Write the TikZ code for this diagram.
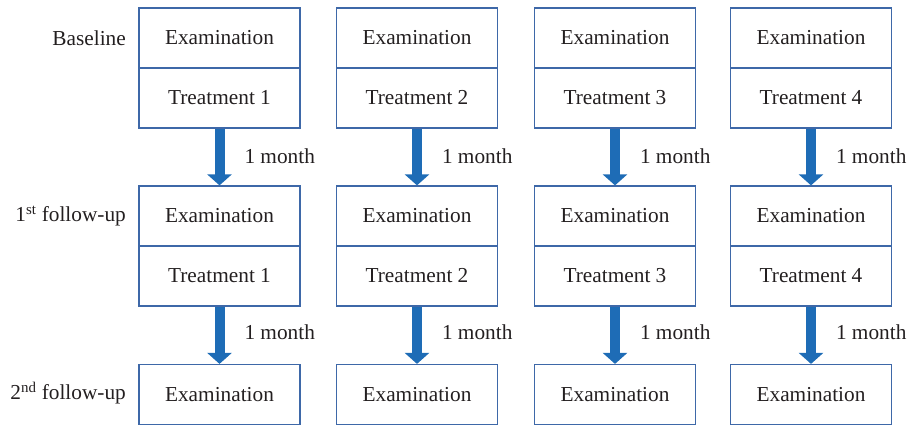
\documentclass[tikz,border=0pt]{standalone}
\usepackage{fontspec}
\setmainfont{Liberation Serif}
\usetikzlibrary{arrows.meta}
\definecolor{boxblue}{RGB}{62,104,168}
\definecolor{arrblue}{RGB}{30,108,182}
\definecolor{txt}{RGB}{35,31,32}
\tikzset{
  cell/.style={draw=boxblue, line width=1.2pt, rectangle, minimum width=161pt, minimum height=60pt, inner sep=0pt, font=\fontsize{21.3}{25}\selectfont, text=txt},
  fat/.style={draw=arrblue, line width=10pt, -{Triangle[width=24pt,length=11pt]}, shorten >=0pt},
  lbl/.style={anchor=west, xshift=20pt, yshift=1pt, font=\fontsize{21.3}{25}\selectfont, text=txt, inner sep=0pt},
  rowlbl/.style={anchor=east, font=\fontsize{21.3}{25}\selectfont, text=txt, inner sep=0pt}
}
\begin{document}
\begin{tikzpicture}[x=1pt,y=-1pt]
\useasboundingbox (0,0) rectangle (912,425);
\foreach \i/\cx in {1/219.5,2/417,3/615,4/811}{
  \node[cell] (b\i e) at (\cx,38) {Examination};
  \node[cell] (b\i t) at (\cx,98) {Treatment \i};
  \node[cell] (f\i e) at (\cx,216) {Examination};
  \node[cell] (f\i t) at (\cx,276) {Treatment \i};
  \node[cell] (s\i e) at (\cx,394.5) {Examination};
  \draw[fat] (b\i t.south) -- node[lbl] {1 month} (f\i e.north);
  \draw[fat] (f\i t.south) -- node[lbl, yshift=2pt] {1 month} (s\i e.north);
}
\node[rowlbl] (r0) at (126,38) {Baseline};
\node[rowlbl] (r1) at (126,216) {1\textsuperscript{st} follow-up};
\node[rowlbl] (r2) at (126,393) {2\textsuperscript{nd} follow-up};
\end{tikzpicture}
\end{document}
